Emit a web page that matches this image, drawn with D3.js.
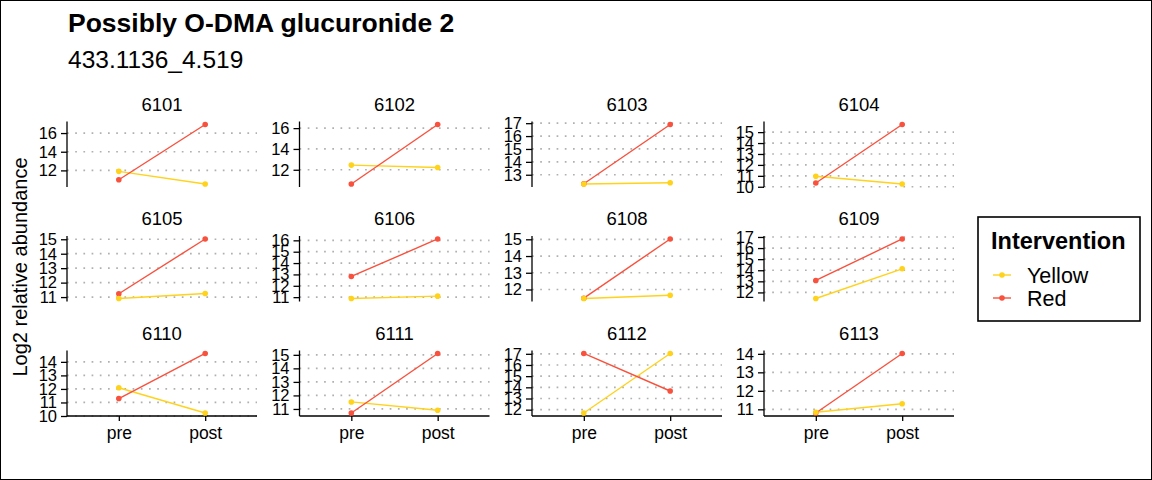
<!DOCTYPE html>
<html>
<head>
<meta charset="utf-8">
<script src="https://cdn.jsdelivr.net/npm/d3@7"></script>
<style>
  html, body { margin: 0; padding: 0; background: #fff; }
  svg { display: block; font-family: "Liberation Sans", Arial, Helvetica, sans-serif; }
</style>
</head>
<body>
<svg id="chart" width="1152" height="480"></svg>
<script>
// ---- data ----
const participants = ["6101","6102","6103","6104","6105","6106","6108","6109","6110","6111","6112","6113"];
const timepoints = ["pre","post"];
const seriesNames = ["Yellow","Red"];
const yellowPre  = [11.90, 12.45, 12.28, 10.96, 10.90, 10.88, 11.46, 11.45, 12.09, 11.52, 11.70, 10.84];
const yellowPost = [10.54, 12.22, 12.38, 10.25, 11.25, 11.09, 11.66, 14.13, 10.22, 10.90, 17.03, 11.30];
const redPre     = [11.00, 10.63, 12.30, 10.34, 11.23, 12.82, 11.48, 13.08, 11.29, 10.70, 17.03, 10.80];
const redPost    = [16.92, 16.35, 16.90, 15.70, 15.02, 16.12, 15.02, 16.82, 14.62, 15.10, 13.67, 14.02];
const yTickValues = [
  [12,14,16], [12,14,16], [13,14,15,16,17], [10,11,12,13,14,15],
  [11,12,13,14,15], [11,12,13,14,15,16], [12,13,14,15], [12,13,14,15,16,17],
  [10,11,12,13,14], [11,12,13,14,15], [12,13,14,15,16,17], [11,12,13,14]
];
const titleText = "Possibly O-DMA glucuronide 2";
const subtitleText = "433.1136_4.519";
const yAxisTitle = "Log2 relative abundance";
const legendTitle = "Intervention";

// ---- style / layout ----
const colors = { Yellow: "#FFD21C", Red: "#F8513D" };
const colLeft = [67, 299.5, 532, 764];
const rowTop = [121.5, 236, 350.5];
const pw = 190, ph = 65.5;

const svg = d3.select("#chart");
svg.append("rect").attr("x", 0.5).attr("y", 0.5).attr("width", 1151).attr("height", 479)
  .attr("fill", "#fff").attr("stroke", "#000").attr("stroke-width", 1);

svg.append("text").attr("x", 68).attr("y", 32).attr("font-size", 26.5).attr("font-weight", "bold")
  .attr("fill", "#000").text(titleText);
svg.append("text").attr("x", 68).attr("y", 68).attr("font-size", 24.5)
  .attr("fill", "#000").text(subtitleText);

svg.append("text")
  .attr("transform", "translate(26.5,267) rotate(-90)")
  .attr("text-anchor", "middle").attr("font-size", 20).attr("fill", "#000")
  .text(yAxisTitle);

const x = d3.scalePoint().domain(timepoints).range([0, pw]).padding(0.6);

participants.forEach((pid, i) => {
  const c = i % 4, r = Math.floor(i / 4);
  const g = svg.append("g").attr("transform", `translate(${colLeft[c]},${rowTop[r]})`);
  const series = [
    { name: "Yellow", vals: [yellowPre[i], yellowPost[i]] },
    { name: "Red", vals: [redPre[i], redPost[i]] }
  ];
  const all = series.flatMap(s => s.vals);
  const [mn, mx] = d3.extent(all);
  const pad = (mx - mn) * 0.05;
  const y = d3.scaleLinear().domain([mn - pad, mx + pad]).range([ph, 0]);

  // strip title
  g.append("text").attr("x", pw / 2).attr("y", -11).attr("text-anchor", "middle")
    .attr("font-size", 18.5).attr("fill", "#000").text(pid);

  // gridlines
  g.append("g").selectAll("line").data(yTickValues[i]).join("line")
    .attr("x1", 0).attr("x2", pw)
    .attr("y1", d => y(d)).attr("y2", d => y(d))
    .attr("stroke", "#b0b0b0").attr("stroke-width", 1.7)
    .attr("stroke-dasharray", "1.7,6.5").attr("stroke-linecap", "butt");

  // y axis
  const ya = g.append("g").call(d3.axisLeft(y).tickValues(yTickValues[i]).tickSize(6).tickPadding(4).tickFormat(d3.format("d")));
  ya.select(".domain").attr("stroke", "#000").attr("stroke-width", 1.3).attr("d", `M0,0V${ph}`);
  ya.selectAll(".tick line").attr("stroke", "#000").attr("stroke-width", 1.3);
  ya.selectAll(".tick text").attr("font-size", 16.5).attr("fill", "#000");
  ya.attr("font-family", null).attr("font-size", null);

  // x axis for bottom row
  if (r === 2) {
    const xa = g.append("g").attr("transform", `translate(0,${ph})`)
      .call(d3.axisBottom(x).tickSize(5).tickPadding(6));
    xa.select(".domain").attr("stroke", "#000").attr("stroke-width", 1.3).attr("d", `M0,0H${pw}`);
    xa.selectAll(".tick line").attr("stroke", "#000").attr("stroke-width", 1.3);
    xa.selectAll(".tick text").attr("font-size", 17.5).attr("fill", "#000");
    xa.attr("font-family", null).attr("font-size", null);
  }

  const line = d3.line().x((d, j) => x(timepoints[j])).y(d => y(d));
  series.forEach(s => {
    g.append("path").attr("d", line(s.vals)).attr("fill", "none")
      .attr("stroke", colors[s.name]).attr("stroke-width", 1.4);
  });
  [series[1], series[0]].forEach(s => {
    g.append("g").selectAll("circle").data(s.vals).join("circle")
      .attr("cx", (d, j) => x(timepoints[j])).attr("cy", d => y(d)).attr("r", 2.8)
      .attr("fill", colors[s.name]);
  });
});

// legend
const lg = svg.append("g");
lg.append("rect").attr("x", 978).attr("y", 217).attr("width", 162).attr("height", 104)
  .attr("fill", "#fff").attr("stroke", "#000").attr("stroke-width", 1.6);
lg.append("text").attr("x", 991).attr("y", 249).attr("font-size", 23.5).attr("font-weight", "bold")
  .attr("fill", "#000").text(legendTitle);
const legendY = d3.scalePoint().domain(seriesNames).range([275, 298]);
seriesNames.forEach(n => {
  const yy = legendY(n);
  lg.append("line").attr("x1", 993).attr("x2", 1011).attr("y1", yy).attr("y2", yy)
    .attr("stroke", colors[n]).attr("stroke-width", 1.4);
  lg.append("circle").attr("cx", 1002).attr("cy", yy).attr("r", 2.8).attr("fill", colors[n]);
  lg.append("text").attr("x", 1027).attr("y", yy + 8).attr("font-size", 21.5).attr("fill", "#000").text(n);
});
</script>
</body>
</html>
